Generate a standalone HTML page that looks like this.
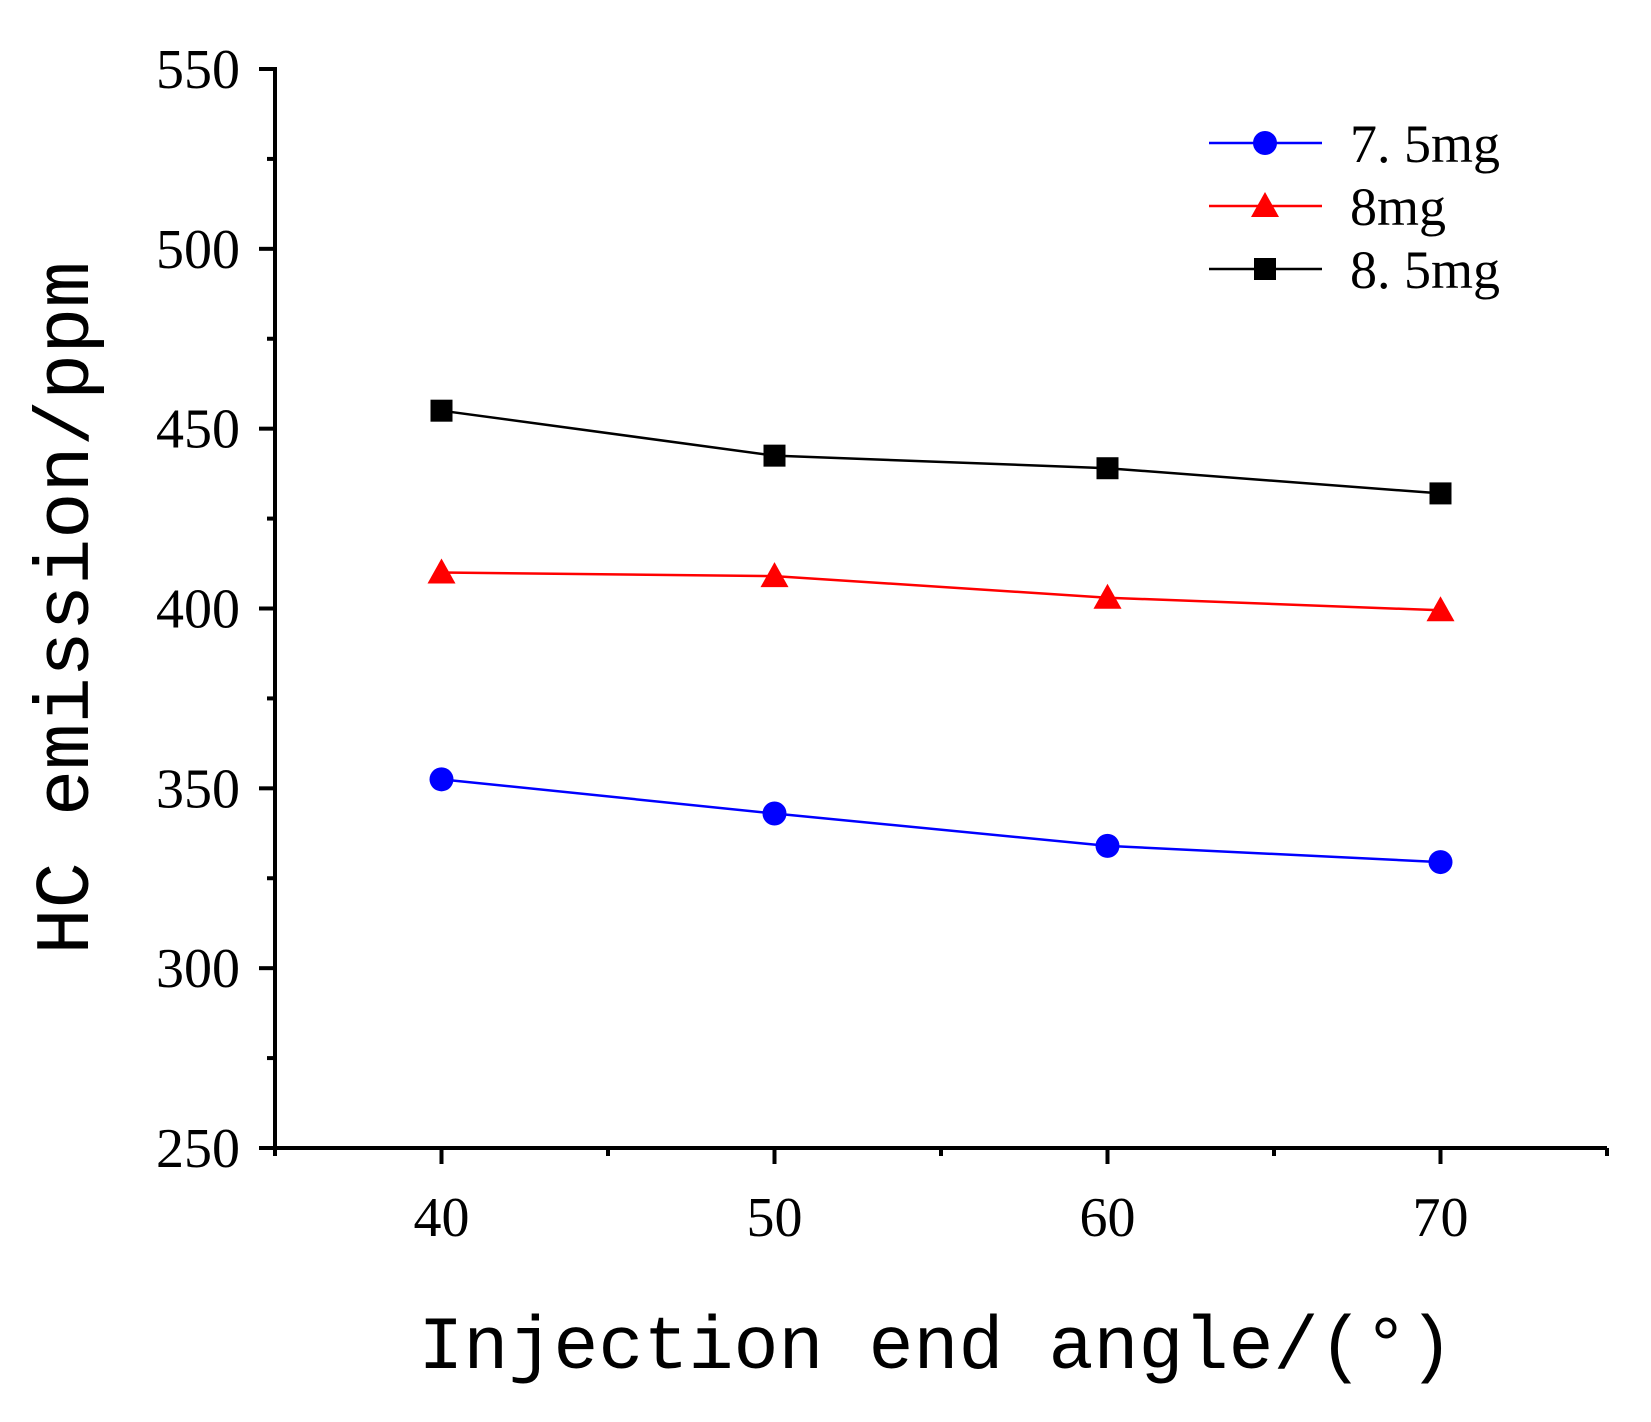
<!DOCTYPE html>
<html><head><meta charset="utf-8"><style>body{margin:0;background:#fff}svg{display:block}</style></head>
<body>
<svg id="chart" width="1651" height="1422" xmlns="http://www.w3.org/2000/svg"></svg>
<script>
const categories=[40,50,60,70];
const series75=[352.5,343,334,329.5];
const series8=[410,409,403,399.5];
const series85=[455,442.5,439,432];
const yTicks=[250,300,350,400,450,500,550];
const xTicks=[40,50,60,70];
const seriesNames=["7.5mg","8mg","8.5mg"];

const svg=document.getElementById('chart');
const NS='http://www.w3.org/2000/svg';
const X0=275,X1=1607,Y0=1148,Y1=69;
const xs=v=>X0+(v-35)/(75-35)*(X1-X0);
const ys=v=>Y0-(v-250)/(550-250)*(Y0-Y1);
function mk(tag,attrs,parent){const e=document.createElementNS(NS,tag);for(const k in attrs)e.setAttribute(k,attrs[k]);(parent||svg).appendChild(e);return e;}

const axes=mk('g',{});


mk('line',{x1:X0,y1:Y1-2,x2:X0,y2:Y0+2,stroke:'#000','stroke-width':4},axes);
mk('line',{x1:X0-2,y1:Y0,x2:X1,y2:Y0,stroke:'#000','stroke-width':4},axes);
for(let v=250;v<=550;v+=25){
  const major=v%50===0;
  const t=mk('line',{x1:X0-(major?16:8),y1:ys(v),x2:X0,y2:ys(v),stroke:'#000','stroke-width':4},axes);
  
  
}
yTicks.forEach(v=>{
  const t=mk('text',{x:240,y:ys(v)+19,'text-anchor':'end','font-family':'Liberation Serif, serif','font-size':56,fill:'#000'},axes);
  t.textContent=v;
  
  
});
for(let v=35;v<=75;v+=5){
  const major=v%10===0;
  const t=mk('line',{x1:xs(v),y1:Y0,x2:xs(v),y2:Y0+(major?16:8),stroke:'#000','stroke-width':4},axes);
  
  
}
xTicks.forEach(v=>{
  const t=mk('text',{x:xs(v),y:1236,'text-anchor':'middle','font-family':'Liberation Serif, serif','font-size':56,fill:'#000'},axes);
  t.textContent=v;
  
  
});
const xt=mk('text',{x:936,y:1368,'text-anchor':'middle','font-family':'Liberation Mono, monospace','font-size':75,fill:'#000'});
xt.textContent='Injection end angle/(°)';


const yt=mk('text',{x:0,y:0,'text-anchor':'middle','font-family':'Liberation Mono, monospace','font-size':77,fill:'#000',transform:'translate(88,608) rotate(-90)'});
yt.textContent='HC emission/ppm';



function marker(g,shape,cx,cy,color){
  let m;
  if(shape==='circle')m=mk('circle',{cx:cx,cy:cy,r:12,fill:color},g);
  else if(shape==='tri')m=mk('polygon',{points:`${cx},${cy-14} ${cx-14},${cy+11} ${cx+14},${cy+11}`,fill:color},g);
  else m=mk('rect',{x:cx-11,y:cy-11,width:22,height:22,fill:color},g);
  return m;
}
const defs=[[series75,'#0000ff','circle'],[series8,'#ff0000','tri'],[series85,'#000','square']];
defs.forEach((d,i)=>{
  const g=mk('g',{});
  
  
  const pts=categories.map((c,j)=>xs(c)+','+ys(d[0][j])).join(' ');
  mk('polyline',{points:pts,fill:'none',stroke:d[1],'stroke-width':2.5},g);
  categories.forEach((c,j)=>{
    const m=marker(g,d[2],xs(c),ys(d[0][j]),d[1]);
    
    
  });
  const ly=143+i*63;
  const lg=mk('g',{},svg);
  
  
  mk('line',{x1:1209,y1:ly,x2:1322,y2:ly,stroke:d[1],'stroke-width':2.5},lg);
  marker(lg,d[2],1265,ly,d[1]);
  const t=mk('text',{x:1350,y:ly+19,'font-family':'Liberation Serif, serif','font-size':54,fill:'#000'},lg);
  t.textContent=seriesNames[i].replace('.','. ');
});
</script>
</body></html>
